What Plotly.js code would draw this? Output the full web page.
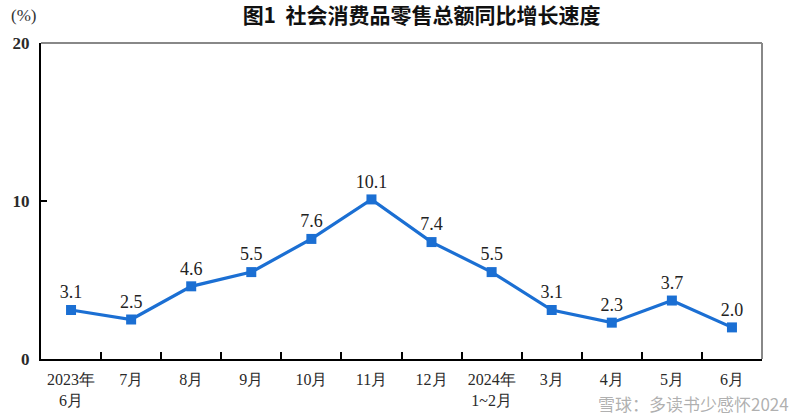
<!DOCTYPE html>
<html><head><meta charset="utf-8">
<script src="https://cdn.plot.ly/plotly-3.0.1.min.js"></script>
<style>html,body{margin:0;padding:0;background:#fff}#c{width:800px;height:417px}</style>
</head><body><div id="c"></div>
<script>
const categories = ["2023年<br>6月","7月","8月","9月","10月","11月","12月","2024年<br>1~2月","3月","4月","5月","6月"];
const growth = [3.1,2.5,4.6,5.5,7.6,10.1,7.4,5.5,3.1,2.3,3.7,2.0];
const yTicks = [0,10,20];

const serif = "Liberation Serif, Times New Roman, serif";
const trace = {
  x: categories, y: growth, type: "scatter", mode: "lines+markers+text",
  line: {color: "#1b6fd3", width: 3.2},
  marker: {symbol: "square", size: 10, color: "#1b6fd3"},
  text: growth.map(v => v.toFixed(1)), textposition: "top center",
  textfont: {family: serif, size: 18, color: "#222"},
  cliponaxis: false, hoverinfo: "none"
};
const layout = {
  width: 800, height: 417,
  margin: {l: 41, r: 38, t: 43, b: 58},
  paper_bgcolor: "#fff", plot_bgcolor: "#fff",
  showlegend: false,
  title: {text: "<b>图1  社会消费品零售总额同比增长速度</b>", x: 0.527, xanchor: "center", y: 0.962, yanchor: "middle",
          font: {family: "Noto Sans CJK SC", size: 21, color: "#111"}},
  xaxis: {type: "category", range: [-0.5, 11.5], showline: true, linecolor: "#000", linewidth: 2,
          ticks: "inside", tickson: "boundaries", ticklen: 7, tickwidth: 2, tickcolor: "#000",
          showgrid: false, zeroline: false, fixedrange: true, ticklabelstandoff: 5, tickangle: 0,
          tickfont: {family: serif, size: 16, color: "#2a2a2a"}},
  yaxis: {range: [0, 20], tickvals: yTicks, ticktext: yTicks.map(String), showline: true, linecolor: "#000", linewidth: 2,
          ticks: "inside", ticklen: 6, tickwidth: 2, tickcolor: "#000", showgrid: false, zeroline: false,
          ticklabelstandoff: 6,
          tickfont: {family: serif, size: 17, color: "#2a2a2a", weight: "bold"}},
  shapes: [
    {type: "line", xref: "paper", yref: "paper", x0: 0, x1: 1, y0: 1, y1: 1, line: {color: "#888", width: 2}},
    {type: "line", xref: "paper", yref: "paper", x0: 1, x1: 1, y0: 0, y1: 1, line: {color: "#888", width: 2}}
  ],
  annotations: [
    {text: "(%)", xref: "paper", yref: "paper", x: -0.045, y: 1.088, xanchor: "left", yanchor: "middle", showarrow: false,
     font: {family: serif, size: 17, color: "#333"}},
    {text: "雪球：多读书少感怀2024", xref: "paper", yref: "paper", x: 1.04, y: -0.14, xanchor: "right", yanchor: "middle", showarrow: false,
     font: {family: "Noto Sans CJK SC", size: 17, color: "rgba(150,150,150,0.75)"}}
  ]
};
Plotly.newPlot("c", [trace], layout, {displayModeBar: false, staticPlot: true});
</script></body></html>
